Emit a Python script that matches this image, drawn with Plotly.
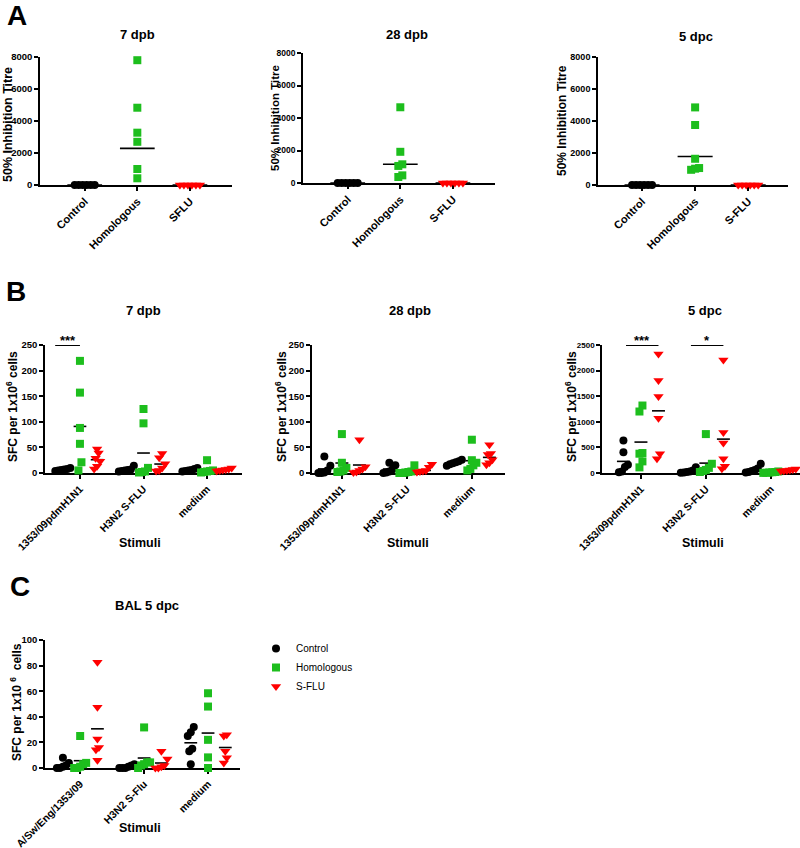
import plotly.graph_objects as go

W, H = 800, 848
FONT = "Arial, 'Liberation Sans', sans-serif"
COL = {"ctrl": "#000000", "hom": "#1DBE1D", "sflu": "#FF0000"}
SYM = {"ctrl": "circle", "hom": "square", "sflu": "triangle-down"}
SIZE = {"ctrl": 8, "hom": 8, "sflu": 9}
NAME = {"ctrl": "Control", "hom": "Homologous", "sflu": "S-FLU"}

# ---------------- data ----------------
A7_CATS = ["Control", "Homologous", "SFLU"]
A_CATS = ["Control", "Homologous", "S-FLU"]
A_YTICKS = [0, 2000, 4000, 6000, 8000]

A7_CONTROL = [0, 0, 0, 0, 0, 0]
A7_HOMOLOGOUS = [7800, 4830, 3270, 2700, 1000, 420]
A7_SFLU = [0, 0, 0, 0, 0, 0]
A7_GMEAN = [0, 2290, 0]

A28_CONTROL = [0, 0, 0, 0, 0, 0]
A28_HOMOLOGOUS = [4660, 1920, 1150, 1050, 470, 370]
A28_SFLU = [0, 0, 0, 0, 0, 0]
A28_GMEAN = [0, 1150, 0]

A5_CONTROL = [0, 0, 0, 0, 0, 0]
A5_HOMOLOGOUS = [4850, 3750, 1640, 1060, 950, 1020]
A5_SFLU = [0, 0, 0, 0, 0, 0]
A5_GMEAN = [0, 1780, 0]

B_CATS = ["1353/09pdmH1N1", "H3N2 S-FLU", "medium"]
B_YTICKS = [0, 50, 100, 150, 200, 250]
B5_YTICKS = [0, 500, 1000, 1500, 2000, 2500]

B7_CONTROL = [[8, 7, 6, 5, 10, 4], [14, 6, 5, 4, 3, 7], [5, 8, 3, 4, 6, 10]]
B7_HOMOLOGOUS = [[219, 157, 88, 57, 21, 5], [125, 97, 10, 2, 3, 1], [25, 5, 3, 2, 1, 4]]
B7_SFLU = [[47, 39, 29, 23, 13, 8], [38, 30, 18, 10, 5, 4], [10, 8, 6, 5, 4, 7]]
B7_MEAN_CONTROL = [7, 6.5, 6]
B7_MEAN_HOMOLOGOUS = [91, 39, 6.5]
B7_MEAN_SFLU = [26, 17.5, 6.7]

B28_CONTROL = [[32, 14, 5, 1, 0, 0], [20, 15, 7, 3, 1, 0], [26, 23, 21, 19, 17, 14]]
B28_HOMOLOGOUS = [[76, 20, 10, 5, 3, 2], [15, 3, 2, 1, 0, 0], [65, 25, 20, 15, 8, 5]]
B28_SFLU = [[65, 12, 8, 5, 2, 1], [17, 11, 5, 3, 2, 4], [55, 38, 36, 26, 20, 16]]
B28_MEAN_CONTROL = [8, 7.8, 20.8]
B28_MEAN_HOMOLOGOUS = [19.5, 3.5, 24]
B28_MEAN_SFLU = [15.6, 5, 30.5]

B5_CONTROL = [[636, 403, 162, 117, 30, 15], [110, 50, 30, 20, 10, 5], [180, 90, 60, 40, 20, 10]]
B5_HOMOLOGOUS = [[1318, 1201, 390, 377, 227, 110], [760, 180, 100, 60, 40, 20], [30, 20, 15, 10, 5, 2]]
B5_SFLU = [[2325, 1805, 1494, 1071, 377, 279], [2208, 792, 584, 279, 130, 84], [80, 70, 60, 50, 45, 40]]
B5_MEAN_CONTROL = [227, 37, 67]
B5_MEAN_HOMOLOGOUS = [604, 193, 14]
B5_MEAN_SFLU = [1214, 662, 58]

C_CATS = ["A/Sw/Eng/1353/09", "H3N2 S-Flu", "medium"]
C_YTICKS = [0, 20, 40, 60, 80, 100]
C_CONTROL = [[8, 4, 2, 1, 0, 0], [3, 2, 1, 0, 0, 0], [32, 28, 25, 15, 13, 3]]
C_HOMOLOGOUS = [[25, 4, 3, 1, 0, 0], [31.7, 4.4, 4.4, 3, 2, 0], [58.4, 48, 22, 8.3, 0]]
C_SFLU = [[82.6, 47.5, 22.6, 16.1, 14.3, 6], [13, 7, 2, 1, 0, 0], [26, 25, 13, 8, 4]]
C_MEAN_CONTROL = [2.1, 1, 19.7]
C_MEAN_HOMOLOGOUS = [5.7, 7.8, 27.3]
C_MEAN_SFLU = [30.6, 3.9, 16]

SIG_B7 = [(0, "***")]
SIG_B5 = [(0, "***"), (1, "*")]

# ---------------- layout geometry (pixels) ----------------
GEOM = {
    "A1": dict(x0=40, x1=232, ytop=57, ybot=185, xr=(-0.85, 2.8), ytf=9.5),
    "A2": dict(x0=303, x1=495, ytop=53, ybot=183, xr=(-0.85, 2.8), ytf=8.5),
    "A3": dict(x0=598, x1=788, ytop=57, ybot=185, xr=(-0.83, 2.75), ytf=9),
    "B1": dict(x0=45, x1=242, ytop=345, ybot=473, xr=(-0.55, 2.55), ytf=9.5),
    "B2": dict(x0=312, x1=505, ytop=345, ybot=473, xr=(-0.46, 2.51), ytf=9.5),
    "B3": dict(x0=602, x1=800, ytop=345, ybot=473, xr=(-0.6, 2.45), ytf=8),
    "C": dict(x0=45, x1=240, ytop=640, ybot=768, xr=(-0.55, 2.5), ytf=9.5),
}
SUB_OFF = {"ctrl": -0.27, "hom": 0.0, "sflu": 0.27}
SIG_SPAN = {"B1": (-0.39, 0.0), "B3": (-0.23, 0.27)}


def a_cols(ctrl, hom, sflu, means):
    return [(0, "ctrl", ctrl, means[0]), (1, "hom", hom, means[1]), (2, "sflu", sflu, means[2])]


def b_cols(ctrl, hom, sflu, mc, mh, ms):
    cols = []
    for g in range(3):
        cols.append((g + SUB_OFF["ctrl"], "ctrl", ctrl[g], mc[g]))
        cols.append((g + SUB_OFF["hom"], "hom", hom[g], mh[g]))
        cols.append((g + SUB_OFF["sflu"], "sflu", sflu[g], ms[g]))
    return cols


PANELS = [
    dict(key="A1", title="7 dpb", cats=A7_CATS, yticks=A_YTICKS,
         ytitle="50% Inhibition Titre", ytfs=12.5, ytx=8, yty=125, tx=137, ty=35,
         cols=a_cols(A7_CONTROL, A7_HOMOLOGOUS, A7_SFLU, A7_GMEAN), half=0.33, step=4, xfs=11),
    dict(key="A2", title="28 dpb", cats=A_CATS, yticks=A_YTICKS,
         ytitle="50% Inhibition Titre", ytfs=11.5, ytx=275, yty=118, tx=407, ty=35,
         cols=a_cols(A28_CONTROL, A28_HOMOLOGOUS, A28_SFLU, A28_GMEAN), half=0.33, step=4, xfs=11),
    dict(key="A3", title="5 dpc", cats=A_CATS, yticks=A_YTICKS,
         ytitle="50% Inhibition Titre", ytfs=12, ytx=562, yty=121, tx=696, ty=36,
         cols=a_cols(A5_CONTROL, A5_HOMOLOGOUS, A5_SFLU, A5_GMEAN), half=0.33, step=4, xfs=11),
    dict(key="B1", title="7 dpb", cats=B_CATS, yticks=B_YTICKS,
         ytitle="SFC per 1x10<sup>6</sup> cells", ytfs=12, ytx=12, yty=407, tx=143, ty=310,
         cols=b_cols(B7_CONTROL, B7_HOMOLOGOUS, B7_SFLU, B7_MEAN_CONTROL, B7_MEAN_HOMOLOGOUS, B7_MEAN_SFLU),
         half=0.1, step=3, xfs=10.5, xtitle=(140, 543), sig=SIG_B7),
    dict(key="B2", title="28 dpb", cats=B_CATS, yticks=B_YTICKS,
         ytitle="SFC per 1x10<sup>6</sup> cells", ytfs=12, ytx=281, yty=407, tx=410, ty=310,
         cols=b_cols(B28_CONTROL, B28_HOMOLOGOUS, B28_SFLU, B28_MEAN_CONTROL, B28_MEAN_HOMOLOGOUS, B28_MEAN_SFLU),
         half=0.1, step=3, xfs=10.5, xtitle=(408, 543)),
    dict(key="B3", title="5 dpc", cats=B_CATS, yticks=B5_YTICKS,
         ytitle="SFC per 1x10<sup>6</sup> cells", ytfs=12, ytx=571, yty=407, tx=705, ty=310,
         cols=b_cols(B5_CONTROL, B5_HOMOLOGOUS, B5_SFLU, B5_MEAN_CONTROL, B5_MEAN_HOMOLOGOUS, B5_MEAN_SFLU),
         half=0.1, step=3, xfs=10.5, xtitle=(703, 543), sig=SIG_B5),
    dict(key="C", title="BAL 5 dpc", cats=C_CATS, yticks=C_YTICKS,
         ytitle="SFC per 1x10 <sup>6</sup>  cells", ytfs=12, ytx=16, yty=702, tx=147, ty=605,
         cols=b_cols(C_CONTROL, C_HOMOLOGOUS, C_SFLU, C_MEAN_CONTROL, C_MEAN_HOMOLOGOUS, C_MEAN_SFLU),
         half=0.1, step=3, xfs=10.5, xtitle=(140, 828), legend=True),
]


def spread(values, ypx, xpx, step_px, thresh_px=9):
    n = len(values)
    order = sorted(range(n), key=lambda i: values[i])
    clusters = []
    for i in order:
        if clusters and (values[i] - values[clusters[-1][0]]) * ypx < thresh_px:
            clusters[-1].append(i)
        else:
            clusters.append([i])
    offs = [0.0] * n
    for c in clusters:
        k = len(c)
        for j, i in enumerate(c):
            offs[i] = (j - (k - 1) / 2) * step_px / xpx
    return offs


fig = go.Figure()
layout = dict(width=W, height=H, margin=dict(l=0, r=0, t=0, b=0, autoexpand=False),
              paper_bgcolor="white", plot_bgcolor="white",
              font=dict(family=FONT, color="black"), showlegend=True,
              legend=dict(x=256 / W, y=1 - 634 / H, xanchor="left", yanchor="top",
                          font=dict(size=10, family=FONT), bgcolor="rgba(0,0,0,0)",
                          tracegroupgap=0, itemwidth=30))
annotations = []


def px(x):
    return x / W


def py(y):
    return 1 - y / H


def ann(x, y, text, size, xref="paper", yref="paper", **kw):
    d = dict(x=x, y=y, xref=xref, yref=yref, text=text, showarrow=False,
             xanchor="center", yanchor="middle",
             font=dict(size=size, family=FONT, weight="bold", color="black"))
    d.update(kw)
    annotations.append(d)


for i, p in enumerate(PANELS):
    s = "" if i == 0 else str(i + 1)
    xa, ya = "x" + s, "y" + s
    g = GEOM[p["key"]]
    ymax = p["yticks"][-1]
    layout["xaxis" + s] = dict(
        domain=[px(g["x0"]), px(g["x1"])], range=list(g["xr"]), anchor=ya, automargin=False,
        tickvals=[0, 1, 2], ticktext=p["cats"], tickangle=-45,
        showline=True, linecolor="black", linewidth=1.6, ticks="outside", ticklen=4,
        tickwidth=1.5, tickcolor="black", showgrid=False, zeroline=False, layer="below traces",
        tickfont=dict(size=p["xfs"], family=FONT, weight="bold", color="black"), fixedrange=True)
    layout["yaxis" + s] = dict(
        domain=[py(g["ybot"]), py(g["ytop"])], range=[0, ymax], anchor=xa, automargin=False,
        tickvals=p["yticks"], tickformat="d",
        showline=True, linecolor="black", linewidth=1.6, ticks="outside", ticklen=4,
        tickwidth=1.5, tickcolor="black", showgrid=False, zeroline=False, layer="below traces",
        tickfont=dict(size=g["ytf"], family=FONT, weight="bold", color="black"), fixedrange=True)

    xpx = (g["x1"] - g["x0"]) / (g["xr"][1] - g["xr"][0])
    ypx = (g["ybot"] - g["ytop"]) / ymax

    # mean lines
    lx, ly = [], []
    for xc, key, vals, m in p["cols"]:
        lx += [xc - p["half"], xc + p["half"], None]
        ly += [m, m, None]
    fig.add_trace(go.Scatter(x=lx, y=ly, mode="lines", line=dict(color="black", width=1.6),
                             xaxis=xa, yaxis=ya, showlegend=False, hoverinfo="skip",
                             cliponaxis=False))

    # points
    for key in ["ctrl", "hom", "sflu"]:
        xs, ys = [], []
        for xc, k2, vals, m in p["cols"]:
            if k2 != key:
                continue
            offs = spread(vals, ypx, xpx, p["step"])
            xs += [xc + o for o in offs]
            ys += list(vals)
        if not xs:
            continue
        fig.add_trace(go.Scatter(
            x=xs, y=ys, mode="markers", name=NAME[key], xaxis=xa, yaxis=ya,
            marker=dict(color=COL[key], symbol=SYM[key], size=SIZE[key], line=dict(width=0)),
            cliponaxis=False, showlegend=bool(p.get("legend"))))

    # significance bars
    for grp, label in p.get("sig", []):
        a, b = SIG_SPAN[p["key"]]
        fig.add_trace(go.Scatter(x=[grp + a, grp + b], y=[ymax, ymax], mode="lines",
                                 line=dict(color="black", width=2), xaxis=xa, yaxis=ya,
                                 showlegend=False, hoverinfo="skip", cliponaxis=False))
        ann(grp + (a + b) / 2, ymax, label, 13, xref=xa, yref=ya, yanchor="bottom", yshift=-5)

    # titles
    ann(px(p["tx"]), py(p["ty"]), p["title"], 13)
    ann(px(p["ytx"]), py(p["yty"]), p["ytitle"], p["ytfs"], textangle=-90)
    if "xtitle" in p:
        ann(px(p["xtitle"][0]), py(p["xtitle"][1]), "Stimuli", 12.5)

for letter, (lx0, ly0) in {"A": (17, 15), "B": (16, 291), "C": (20, 586)}.items():
    ann(px(lx0), py(ly0), letter, 28)

layout["annotations"] = annotations
fig.update_layout(**layout)
fig.write_html("out.html", config={"displayModeBar": False},
               post_script="document.body.style.margin='0';document.body.style.overflow='hidden';")
